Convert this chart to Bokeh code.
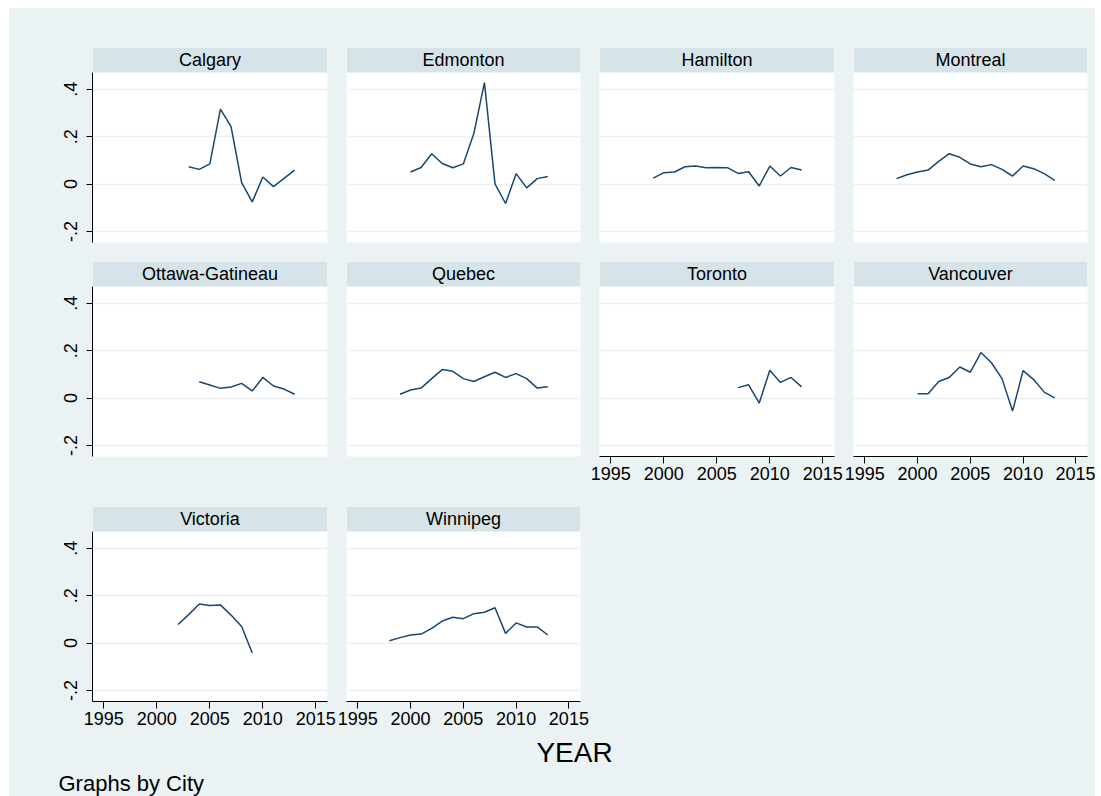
from bokeh.plotting import figure
from bokeh.models import Range1d, FixedTicker, BoxAnnotation, Label, ColumnDataSource, Spacer
from bokeh.layouts import row, column
from bokeh.embed import file_html
from bokeh.resources import INLINE

# ---- data: yearly growth by city ----
calgary_years = list(range(2003, 2014))
calgary_vals = [0.073, 0.062, 0.085, 0.316, 0.242, 0.006, -0.075, 0.030, -0.011, 0.024, 0.059]

edmonton_years = list(range(2000, 2014))
edmonton_vals = [0.051, 0.070, 0.128, 0.087, 0.069, 0.085, 0.214, 0.428, 0.001, -0.082,
                 0.044, -0.016, 0.023, 0.032]

hamilton_years = list(range(1999, 2014))
hamilton_vals = [0.025, 0.048, 0.051, 0.073, 0.076, 0.069, 0.070, 0.069, 0.045, 0.052,
                 -0.008, 0.076, 0.034, 0.070, 0.059]

montreal_years = list(range(1998, 2014))
montreal_vals = [0.023, 0.039, 0.051, 0.059, 0.096, 0.128, 0.113, 0.085, 0.073, 0.082,
                 0.062, 0.034, 0.076, 0.065, 0.044, 0.016]

ottawa_years = list(range(2004, 2014))
ottawa_vals = [0.069, 0.055, 0.041, 0.047, 0.062, 0.030, 0.087, 0.051, 0.038, 0.016]

quebec_years = list(range(1999, 2014))
quebec_vals = [0.016, 0.034, 0.042, 0.082, 0.120, 0.113, 0.082, 0.070, 0.090, 0.109,
               0.087, 0.103, 0.082, 0.042, 0.048]

toronto_years = list(range(2007, 2014))
toronto_vals = [0.044, 0.056, -0.021, 0.117, 0.066, 0.087, 0.047]

vancouver_years = list(range(2000, 2014))
vancouver_vals = [0.018, 0.018, 0.070, 0.087, 0.131, 0.109, 0.192, 0.149, 0.082, -0.055,
                  0.116, 0.078, 0.025, 0.001]

victoria_years = list(range(2002, 2010))
victoria_vals = [0.078, 0.120, 0.165, 0.158, 0.161, 0.118, 0.070, -0.042]

winnipeg_years = list(range(1998, 2014))
winnipeg_vals = [0.010, 0.023, 0.034, 0.038, 0.062, 0.093, 0.109, 0.103, 0.124, 0.130,
                 0.149, 0.041, 0.085, 0.068, 0.068, 0.034]

year_ticks = [1995, 2000, 2005, 2010, 2015]
y_ticks = [-0.2, 0.0, 0.2, 0.4]
y_tick_labels = ["-.2", "0", ".2", ".4"]

# ---- style ----
BG = "#EAF2F3"
STRIP = "#D6E4EA"
NAVY = "#1A476F"
FONT = "Liberation Sans"
TICK_SIZE = "18px"
X_LO, X_HI = 1993.93, 2016.1
Y_LO, Y_HI = -0.2465, 0.4706
FRAME_H = 170
STRIP_H = 25
Y_TOP = Y_HI + STRIP_H * (Y_HI - Y_LO) / FRAME_H


def panel(name, years, vals, frame_w, borders, show_y=False, show_x=False):
    b_left, b_right, b_top, b_bottom = borders
    p = figure(frame_width=frame_w, frame_height=FRAME_H + STRIP_H,
               x_range=Range1d(X_LO, X_HI), y_range=Range1d(Y_LO, Y_TOP),
               min_border_left=b_left, min_border_right=b_right,
               min_border_top=b_top, min_border_bottom=b_bottom,
               background_fill_color="white", border_fill_color=BG,
               outline_line_color=None, toolbar_location=None,
               output_backend="svg")

    p.xgrid.visible = False
    p.ygrid.ticker = FixedTicker(ticks=y_ticks)
    p.ygrid.grid_line_color = BG
    p.ygrid.grid_line_width = 1.7

    xa = p.xaxis[0]
    xa.ticker = FixedTicker(ticks=year_ticks)
    xa.major_tick_out = 7
    xa.major_tick_in = 0
    xa.minor_tick_line_color = None
    xa.major_label_standoff = 3
    xa.major_label_text_font = FONT
    xa.major_label_text_font_size = TICK_SIZE
    xa.major_label_text_color = "black"
    xa.axis_line_color = "black"
    xa.major_tick_line_color = "black"
    xa.visible = show_x

    ya = p.yaxis[0]
    ya.ticker = FixedTicker(ticks=y_ticks)
    ya.major_label_overrides = {t: s for t, s in zip(y_ticks, y_tick_labels)}
    ya.major_label_orientation = "vertical"
    ya.bounds = (Y_LO, Y_HI)
    ya.major_tick_out = 6
    ya.major_tick_in = 0
    ya.minor_tick_line_color = None
    ya.major_label_standoff = 9
    ya.major_label_text_font = FONT
    ya.major_label_text_font_size = TICK_SIZE
    ya.major_label_text_color = "black"
    ya.axis_line_color = "black"
    ya.major_tick_line_color = "black"
    ya.visible = show_y

    src = ColumnDataSource(dict(year=years, val=vals))
    p.line("year", "val", source=src, line_color=NAVY, line_width=1.5)

    # city strip across the top of the panel
    p.add_layout(BoxAnnotation(bottom=Y_HI, fill_color=STRIP, fill_alpha=1.0,
                               line_color=None))
    p.add_layout(Label(x=(X_LO + X_HI) / 2, y=(Y_HI + Y_TOP) / 2, text=name,
                       text_align="center", text_baseline="middle",
                       text_font=FONT, text_font_size="18px", text_color="black"))
    return p


# column widths: (frame width, left border, right border)
cols = [(235, 83, 10), (234, 9, 10), (235, 9, 10), (234, 9, 8)]
r1 = (39, 10)
r2 = (9, 40)
r3 = (10, 34)


def b(ci, rr):
    fw, bl, br = cols[ci]
    return fw, (bl, br, rr[0], rr[1])


row1 = row(
    panel("Calgary", calgary_years, calgary_vals, *b(0, r1), show_y=True),
    panel("Edmonton", edmonton_years, edmonton_vals, *b(1, r1)),
    panel("Hamilton", hamilton_years, hamilton_vals, *b(2, r1)),
    panel("Montreal", montreal_years, montreal_vals, *b(3, r1)),
)
row2 = row(
    panel("Ottawa-Gatineau", ottawa_years, ottawa_vals, *b(0, r2), show_y=True),
    panel("Quebec", quebec_years, quebec_vals, *b(1, r2)),
    panel("Toronto", toronto_years, toronto_vals, *b(2, r2), show_x=True),
    panel("Vancouver", vancouver_years, vancouver_vals, *b(3, r2), show_x=True),
)
row3_h = r3[0] + FRAME_H + STRIP_H + r3[1]
row3 = row(
    panel("Victoria", victoria_years, victoria_vals, *b(0, r3), show_y=True, show_x=True),
    panel("Winnipeg", winnipeg_years, winnipeg_vals, *b(1, r3), show_x=True),
    Spacer(width=505, height=row3_h, styles={"background-color": BG}),
)

# footer with the shared axis title and the by-variable note
total_w = sum(c[0] + c[1] + c[2] for c in cols)
foot_h = 61
foot = figure(frame_width=total_w, frame_height=foot_h,
              x_range=Range1d(0, total_w), y_range=Range1d(0, foot_h),
              x_axis_location=None, y_axis_location=None,
              min_border_left=0, min_border_right=0, min_border_top=0, min_border_bottom=0,
              background_fill_color=BG, border_fill_color=BG, outline_line_color=None,
              toolbar_location=None, output_backend="svg")
foot.grid.visible = False
foot.add_layout(Label(x=565, y=44, text="YEAR", text_align="center", text_baseline="middle",
                      text_font=FONT, text_font_size="28px", text_color="black"))
foot.add_layout(Label(x=49, y=13, text="Graphs by City", text_align="left",
                      text_baseline="middle", text_font=FONT, text_font_size="22px",
                      text_color="black"))

page = column(row1, row2, row3, foot, margin=(8, 0, 0, 9),
              styles={"background-color": BG})

open("out.html", "w").write(file_html(page, INLINE))
